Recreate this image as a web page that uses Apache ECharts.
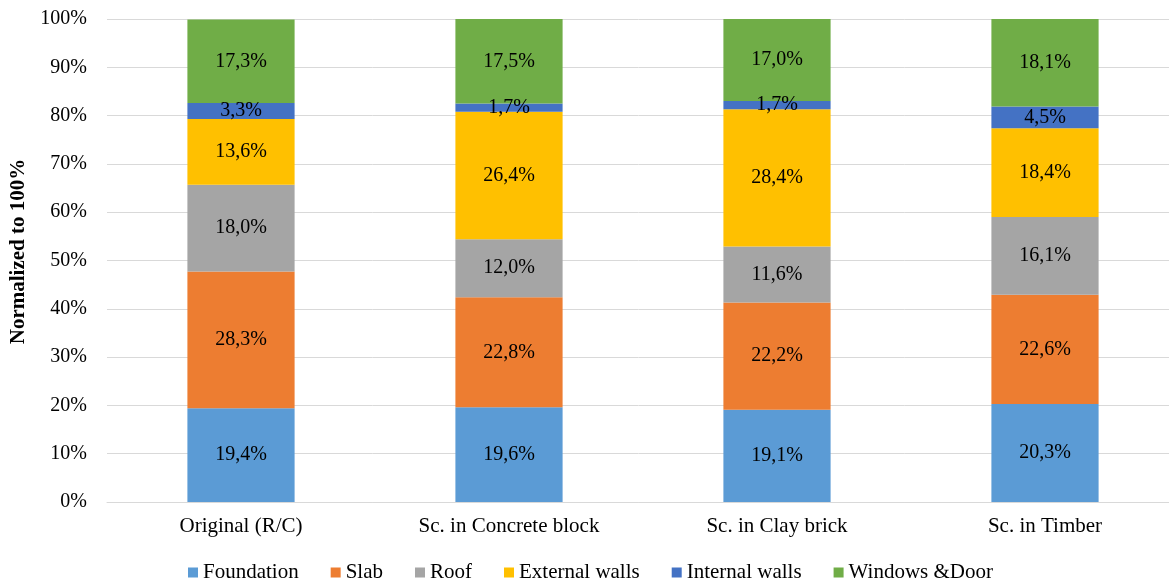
<!DOCTYPE html>
<html>
<head>
<meta charset="utf-8">
<script src="https://cdn.jsdelivr.net/npm/echarts@6/dist/echarts.min.js"></script>
<style>
	html, body { margin: 0; padding: 0; background: #fff; }
	#chart { width: 1169px; height: 581px; }
</style>
</head>
<body>
<div id="chart"></div>
<script>
	// 类别与数据（百分比）
	var categories = ['Original (R/C)', 'Sc. in Concrete block', 'Sc. in Clay brick', 'Sc. in Timber'];
	var seriesNames = ['Foundation', 'Slab', 'Roof', 'External walls', 'Internal walls', 'Windows &Door'];
	var colors = ['#5B9BD5', '#ED7D31', '#A5A5A5', '#FFC000', '#4472C4', '#70AD47'];

	var foundation = [19.4, 19.6, 19.1, 20.3];
	var slab = [28.3, 22.8, 22.2, 22.6];
	var roof = [18.0, 12.0, 11.6, 16.1];
	var externalWalls = [13.6, 26.4, 28.4, 18.4];
	var internalWalls = [3.3, 1.7, 1.7, 4.5];
	var windowsDoor = [17.3, 17.5, 17.0, 18.1];

	var allData = [foundation, slab, roof, externalWalls, internalWalls, windowsDoor];
	var font = '"Liberation Serif", "Times New Roman", serif';

	var chart = echarts.init(document.getElementById('chart'));
	chart.setOption({
		animation: false,
		color: colors,
		textStyle: { fontFamily: font },
		grid: {
			left: 107,
			top: 19,
			width: 1072,
			height: 483,
			outerBoundsMode: 'none'
		},
		legend: {
			data: seriesNames,
			top: 557,
			left: 183,
			itemWidth: 10,
			itemHeight: 10,
			itemGap: 32,
			icon: 'rect',
			textStyle: { fontFamily: font, fontSize: 21, color: '#000' }
		},
		xAxis: {
			type: 'category',
			data: categories,
			axisLine: { lineStyle: { color: '#d9d9d9' } },
			axisTick: { show: false },
			axisLabel: { fontFamily: font, fontSize: 21, color: '#000', margin: 14 }
		},
		yAxis: {
			type: 'value',
			min: 0,
			max: 100,
			interval: 10,
			name: 'Normalized to 100%',
			nameLocation: 'middle',
			nameGap: 64,
			nameTextStyle: {
				fontFamily: font, fontSize: 21, fontWeight: 'bold', color: '#000',
				padding: [0, 0, 0, 18]
			},
			axisLine: { show: false },
			axisTick: { show: false },
			splitLine: { lineStyle: { color: '#d9d9d9', width: 1 } },
			axisLabel: {
				fontFamily: font, fontSize: 20, color: '#000', margin: 20,
				formatter: '{value}%'
			}
		},
		series: seriesNames.map(function (name, i) {
			return {
				name: name,
				type: 'bar',
				stack: 'total',
				barWidth: '40%',
				data: allData[i],
				label: {
					show: true,
					position: 'inside',
					fontFamily: font,
					fontSize: 20,
					color: '#000',
					formatter: function (p) {
						return p.value.toFixed(1).replace('.', ',') + '%';
					}
				}
			};
		})
	});
</script>
</body>
</html>
